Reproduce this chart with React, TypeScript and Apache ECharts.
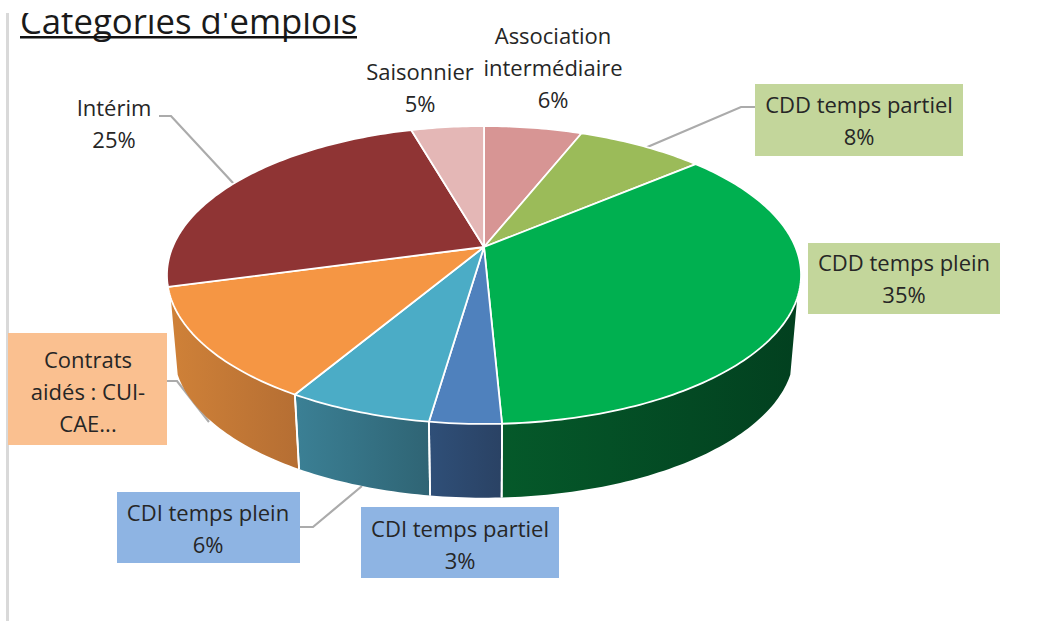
import React, { useEffect, useRef } from "react";
import * as echarts from "echarts";

const categories = [
  "Association intermédiaire",
  "CDD temps partiel",
  "CDD temps plein",
  "CDI temps partiel",
  "CDI temps plein",
  "Contrats aidés : CUI-CAE...",
  "Intérim",
  "Saisonnier",
];
const shares = [6.0, 7.8, 35.45, 3.05, 6.2, 12.25, 24.8, 4.45];
const topColors = ["#D79594", "#9BBB59", "#00B050", "#4F81BD", "#4BACC6", "#F59644", "#8F3434", "#E4B7B6"];
const wallLeft = ["#A87574", "#7A9446", "#05592A", "#2F4F78", "#3B8095", "#CF8138", "#702929", "#B39090"];
const wallRight = ["#A87574", "#7A9446", "#02401F", "#2A4264", "#2F6474", "#B56E33", "#702929", "#B39090"];

const FONT = "'Open Sans', sans-serif";
const TEXT = "#262626";
const LEADER = "#ABABAB";

// Projection of the slanted disc (the apex sits above the ellipse's centre: perspective)
const APEX_X = 484;
const APEX_Y = 247;
const A = 311.4;
const B = 143.7;
const K = 0.188;
const ELL_CY = 275;
const WALL_SCALE = 0.978;
const WALL_DY = 77;
const WALL_T0 = 109.5;
const WALL_T1 = 250.5;

function project(tDeg: number): [number, number] {
  const t = (tDeg * Math.PI) / 180;
  const u = Math.sin(t);
  const v = -Math.cos(t);
  const w = 1 - K * v;
  return [APEX_X + (A * u) / w, APEX_Y + (B * v) / w];
}
function lower(p: [number, number]): [number, number] {
  return [APEX_X + WALL_SCALE * (p[0] - APEX_X), ELL_CY + WALL_DY + WALL_SCALE * (p[1] - ELL_CY)];
}
function arc(t0: number, t1: number): [number, number][] {
  const n = Math.max(2, Math.ceil(Math.abs(t1 - t0)));
  const pts: [number, number][] = [];
  for (let i = 0; i <= n; i++) pts.push(project(t0 + ((t1 - t0) * i) / n));
  return pts;
}

const seriesData = (() => {
  let acc = 0;
  const total = shares.reduce((a, b) => a + b, 0);
  return shares.map((s, i) => {
    const start = (acc / total) * 360;
    acc += s;
    return { name: categories[i], value: [start, (acc / total) * 360, i] };
  });
})();

function renderItem(_params: any, api: any) {
  const t0 = api.value(0);
  const t1 = api.value(1);
  const i = api.value(2);
  const children: any[] = [];
  const a = Math.max(t0, WALL_T0);
  const b = Math.min(t1, WALL_T1);
  if (b > a) {
    const upper = arc(a, b);
    const low = upper.map(lower).reverse();
    children.push({
      type: "polygon",
      z2: 1,
      shape: { points: [...upper, ...low] },
      style: {
        fill: {
          type: "linear",
          x: 0,
          y: 0,
          x2: 1,
          y2: 0,
          colorStops: [
            { offset: 0, color: wallLeft[i] },
            { offset: 1, color: wallRight[i] },
          ],
        },
      },
    });
    [t0, t1].forEach((t) => {
      if (t > WALL_T0 && t < WALL_T1) {
        const p = project(t);
        const q = lower(p);
        children.push({
          type: "line",
          z2: 2,
          shape: { x1: p[0], y1: p[1], x2: q[0], y2: q[1] },
          style: { stroke: "#FFFFFF", lineWidth: 1.8 },
        });
      }
    });
  }
  children.push({
    type: "polygon",
    z2: 3,
    shape: { points: [[APEX_X, APEX_Y], ...arc(t0, t1)] },
    style: { fill: topColors[i], stroke: "#FFFFFF", lineWidth: 1.8, lineJoin: "round" },
  });
  return { type: "group", children };
}

const labelTexts = [
  "Association\nintermédiaire\n6%",
  "CDD temps partiel\n8%",
  "CDD temps plein\n35%",
  "CDI temps partiel\n3%",
  "CDI temps plein\n6%",
  "Contrats\naidés : CUI-\nCAE...",
  "Intérim\n25%",
  "Saisonnier\n5%",
];
const labelCenters = [
  [553, 67],
  [859, 120],
  [904, 278],
  [460, 544],
  [208, 528],
  [88, 391],
  [114, 123],
  [420, 87],
];
const labelBoxes: (number[] | null)[] = [
  null,
  [755, 84, 208, 72],
  [808, 243, 192, 71],
  [361, 507, 198, 71],
  [117, 492, 183, 71],
  [8, 333, 159, 112],
  null,
  null,
];
const labelFills = ["", "#C3D69B", "#C3D69B", "#8EB4E3", "#8EB4E3", "#FAC090", "", ""];
const leaders = [
  [[159, 116], [171, 116], [234, 184]],
  [[755, 107], [741, 107], [645, 148]],
  [[300, 527], [313, 527], [362, 486]],
  [[167, 381], [177, 381], [209, 422]],
];

export default function App() {
  const ref = useRef<HTMLDivElement>(null);
  useEffect(() => {
    document.body.style.margin = "0";
    document.body.style.overflow = "hidden";
    const chart = echarts.init(ref.current!, undefined, { renderer: "svg" });
    const graphic: any[] = [
      {
        type: "rect",
        z: 0,
        shape: { x: 6, y: 13, width: 3, height: 608 },
        style: { fill: "#D9D9D9" },
      },
      {
        type: "text",
        z: 0,
        x: 20,
        y: 20,
        style: { text: "Catégories d'emplois", font: `34.7px ${FONT}`, fill: "#1A1A1A", verticalAlign: "middle" },
      },
      { type: "rect", z: 0, shape: { x: 20, y: 36, width: 337, height: 2.5 }, style: { fill: "#111111" } },
      { type: "rect", z: 20, shape: { x: 0, y: 0, width: 1058, height: 13 }, style: { fill: "#FFFFFF" } },
      ...leaders.map((pts) => ({
        type: "polyline",
        z: 0,
        shape: { points: pts },
        style: { stroke: LEADER, lineWidth: 2.2, fill: "none" },
      })),
    ];
    labelBoxes.forEach((box, i) => {
      if (box) {
        graphic.push({
          type: "rect",
          z: 10,
          shape: { x: box[0], y: box[1], width: box[2], height: box[3] },
          style: { fill: labelFills[i] },
        });
      }
      graphic.push({
        type: "text",
        z: 11,
        x: labelCenters[i][0],
        y: labelCenters[i][1],
        style: {
          text: labelTexts[i],
          font: `22px ${FONT}`,
          lineHeight: 32,
          fill: TEXT,
          align: "center",
          verticalAlign: "middle",
        },
      });
    });
    chart.setOption({
      animation: false,
      backgroundColor: "#FFFFFF",
      graphic,
      series: [
        {
          type: "custom",
          coordinateSystem: "none",
          silent: true,
          z: 5,
          renderItem,
          data: seriesData,
        },
      ],
    });
    return () => chart.dispose();
  }, []);
  return <div ref={ref} style={{ width: 1058, height: 621 }} />;
}
